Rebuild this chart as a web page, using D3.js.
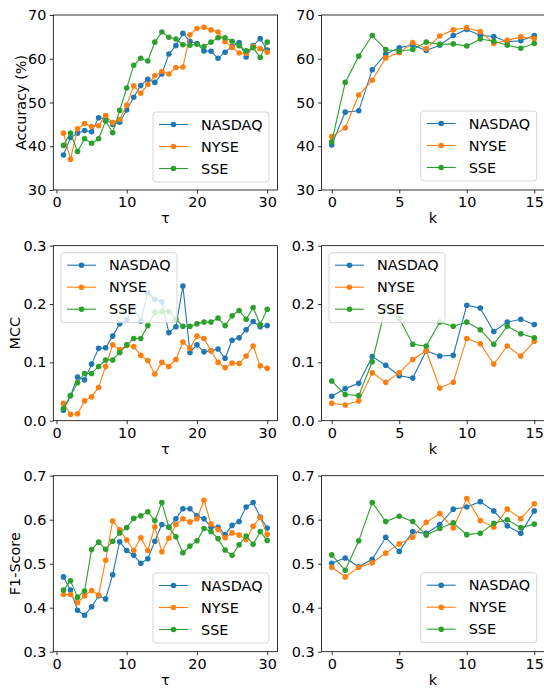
<!DOCTYPE html>
<html>
<head>
<style>
  body { margin: 0; background: #fff; }
  svg text { font-family: "DejaVu Sans", sans-serif; }
</style>
</head>
<body>
<div id="chart"></div>
<script src="https://d3js.org/d3.v7.min.js"></script>
<script>
// series names and colours
var seriesNames = ["NASDAQ", "NYSE", "SSE"];
var seriesColors = ["#1f77b4", "#ff7f0e", "#2ca02c"];

// x values
var tau = d3.range(1, 31);
var kVals = d3.range(0, 16);

// accuracy vs tau
var accTauNasdaq = [38, 42, 43, 43.6, 43.3, 46.5, 46.3, 45, 45.5, 48.3, 51.2, 53.9, 55.3, 54.6, 56.5, 61.1, 63, 65.8, 64, 63.5, 61.8, 61.7, 60.1, 61.5, 62.8, 63.7, 60.4, 63, 64.6, 62];
var accTauNyse = [43, 37, 44, 45.2, 44.5, 44.7, 47, 45.4, 46.1, 49.4, 53.8, 52.1, 54.1, 56.1, 57.1, 56.5, 58, 58.1, 65.5, 66.9, 67.2, 66.6, 66.1, 63.9, 62.6, 61.3, 61.2, 62.8, 62.3, 61.5];
var accTauSse = [40.2, 43, 38.8, 41.7, 40.7, 41.7, 45.8, 43.1, 48.2, 53.3, 58.5, 60.1, 59.5, 63.8, 66.1, 64.9, 64.5, 63.2, 63.1, 63.3, 62.8, 63.8, 64.8, 64.8, 64, 63, 61.8, 62.5, 60.3, 63.8];

// accuracy vs k
var accKNasdaq = [40.3, 47.8, 48.1, 57.5, 61.1, 62.5, 63.1, 61.9, 63.1, 65.3, 66.7, 65.3, 65.1, 63.9, 64.1, 65.3];
var accKNyse = [42.2, 44.2, 51.7, 55.1, 60.2, 61.4, 63.7, 62.3, 65.2, 66.6, 67.1, 66.2, 63.5, 64.2, 65, 64.6];
var accKSse = [41, 54.6, 60.6, 65.3, 62.1, 61.7, 62.1, 63.8, 63.3, 63.4, 62.9, 64.5, 64, 63.1, 62.4, 63.5];

// MCC vs tau
var mccTauNasdaq = [0.018, 0.043, 0.075, 0.07, 0.097, 0.124, 0.125, 0.145, 0.166, 0.173, 0.194, 0.171, 0.219, 0.208, 0.204, 0.151, 0.161, 0.231, 0.117, 0.13, 0.118, 0.12, 0.123, 0.107, 0.138, 0.142, 0.156, 0.17, 0.161, 0.163];
var mccTauNyse = [0.03, 0.011, 0.012, 0.034, 0.041, 0.057, 0.093, 0.13, 0.122, 0.129, 0.127, 0.112, 0.103, 0.08, 0.1, 0.093, 0.105, 0.135, 0.124, 0.145, 0.141, 0.12, 0.1, 0.091, 0.099, 0.098, 0.111, 0.128, 0.094, 0.09];
var mccTauSse = [0.021, 0.043, 0.065, 0.081, 0.081, 0.093, 0.104, 0.104, 0.117, 0.13, 0.141, 0.141, 0.163, 0.186, 0.187, 0.187, 0.174, 0.162, 0.162, 0.166, 0.169, 0.169, 0.176, 0.163, 0.18, 0.189, 0.174, 0.194, 0.165, 0.191];

// MCC vs k
var mccKNasdaq = [0.042, 0.055, 0.064, 0.11, 0.095, 0.077, 0.073, 0.12, 0.111, 0.112, 0.198, 0.193, 0.153, 0.169, 0.174, 0.165];
var mccKNyse = [0.03, 0.027, 0.034, 0.082, 0.066, 0.082, 0.105, 0.12, 0.056, 0.066, 0.141, 0.132, 0.097, 0.128, 0.111, 0.136];
var mccKSse = [0.068, 0.045, 0.043, 0.101, 0.196, 0.175, 0.131, 0.128, 0.169, 0.162, 0.169, 0.156, 0.131, 0.162, 0.149, 0.142];

// F1 vs tau
var f1TauNasdaq = [0.47, 0.44, 0.394, 0.383, 0.402, 0.427, 0.42, 0.475, 0.55, 0.53, 0.519, 0.501, 0.511, 0.551, 0.589, 0.583, 0.602, 0.625, 0.625, 0.609, 0.602, 0.583, 0.583, 0.566, 0.587, 0.596, 0.629, 0.639, 0.606, 0.581];
var f1TauNyse = [0.43, 0.43, 0.411, 0.427, 0.439, 0.429, 0.508, 0.597, 0.577, 0.554, 0.53, 0.559, 0.53, 0.584, 0.527, 0.558, 0.589, 0.602, 0.595, 0.602, 0.644, 0.59, 0.578, 0.559, 0.57, 0.565, 0.555, 0.585, 0.605, 0.567];
var f1TauSse = [0.44, 0.461, 0.424, 0.438, 0.532, 0.549, 0.533, 0.551, 0.57, 0.582, 0.603, 0.609, 0.618, 0.598, 0.639, 0.583, 0.561, 0.525, 0.54, 0.552, 0.58, 0.573, 0.557, 0.531, 0.519, 0.543, 0.563, 0.544, 0.573, 0.553];

// F1 vs k
var f1KNasdaq = [0.501, 0.513, 0.493, 0.51, 0.56, 0.528, 0.573, 0.569, 0.589, 0.624, 0.629, 0.641, 0.62, 0.586, 0.569, 0.62];
var f1KNyse = [0.492, 0.47, 0.492, 0.502, 0.524, 0.545, 0.56, 0.594, 0.614, 0.581, 0.648, 0.598, 0.583, 0.624, 0.602, 0.636];
var f1KSse = [0.52, 0.485, 0.552, 0.639, 0.596, 0.608, 0.596, 0.565, 0.58, 0.593, 0.566, 0.569, 0.592, 0.6, 0.582, 0.59];

var accTicks = [30, 40, 50, 60, 70];
var mccTicks = [0.0, 0.1, 0.2, 0.3];
var f1Ticks = [0.3, 0.4, 0.5, 0.6, 0.7];
var tauTicks = [0, 10, 20, 30];
var kTicks = [0, 5, 10, 15];

var W = 544, H = 688;
var svg = d3.select("#chart").append("svg")
    .attr("width", W)
    .attr("height", H);

var colL = [53.3, 277.4], colR = [321.6, 544.4];
var rows = [[15, 190], [245.7, 420.7], [475.7, 651.7]];

var panels = [
    { col: colL, row: rows[0], xs: tau, xd: [-0.45, 31.45], xt: tauTicks, xl: "τ", yd: [30, 70], yt: accTicks, yf: d3.format("d"), yl: "Accuracy (%)", ylx: 21, data: [accTauNasdaq, accTauNyse, accTauSse], leg: [153, 112] },
    { col: colR, row: rows[0], xs: kVals, xd: [-0.75, 15.75], xt: kTicks, xl: "k", yd: [30, 70], yt: accTicks, yf: d3.format("d"), yl: null, data: [accKNasdaq, accKNyse, accKSse], leg: [420.7, 111] },
    { col: colL, row: rows[1], xs: tau, xd: [-0.45, 31.45], xt: tauTicks, xl: "τ", yd: [0, 0.3], yt: mccTicks, yf: d3.format(".1f"), yl: "MCC", ylx: 15, data: [mccTauNasdaq, mccTauNyse, mccTauSse], leg: [61, 252.7] },
    { col: colR, row: rows[1], xs: kVals, xd: [-0.75, 15.75], xt: kTicks, xl: "k", yd: [0, 0.3], yt: mccTicks, yf: d3.format(".1f"), yl: null, data: [mccKNasdaq, mccKNyse, mccKSse], leg: [329, 252.7] },
    { col: colL, row: rows[2], xs: tau, xd: [-0.45, 31.45], xt: tauTicks, xl: "τ", yd: [0.3, 0.7], yt: f1Ticks, yf: d3.format(".1f"), yl: "F1-Score", ylx: 15, data: [f1TauNasdaq, f1TauNyse, f1TauSse], leg: [153, 573] },
    { col: colR, row: rows[2], xs: kVals, xd: [-0.75, 15.75], xt: kTicks, xl: "k", yd: [0.3, 0.7], yt: f1Ticks, yf: d3.format(".1f"), yl: null, data: [f1KNasdaq, f1KNyse, f1KSse], leg: [420.7, 572.7] }
];

panels.forEach(function (p) {
    var x = d3.scaleLinear().domain(p.xd).range(p.col);
    var y = d3.scaleLinear().domain(p.yd).range([p.row[1], p.row[0]]);
    var g = svg.append("g");

    // lines + markers
    p.data.forEach(function (vals, si) {
        var pts = vals.map(function (v, i) { return [p.xs[i], v]; });
        var line = d3.line().x(d => x(d[0])).y(d => y(d[1]));
        g.append("path")
            .attr("d", line(pts))
            .attr("fill", "none")
            .attr("stroke", seriesColors[si])
            .attr("stroke-width", 1.1);
        g.selectAll(".m" + si)
            .data(pts)
            .enter()
            .append("circle")
            .attr("cx", d => x(d[0]))
            .attr("cy", d => y(d[1]))
            .attr("r", 2.8)
            .attr("fill", seriesColors[si]);
    });

    // axes
    var xa = g.append("g")
        .attr("transform", "translate(0," + p.row[1] + ")")
        .call(d3.axisBottom(x).tickValues(p.xt).tickSize(3.5).tickPadding(3.5).tickSizeOuter(0));
    var ya = g.append("g")
        .attr("transform", "translate(" + p.col[0] + ",0)")
        .call(d3.axisLeft(y).tickValues(p.yt).tickFormat(p.yf).tickSize(3.5).tickPadding(3.5).tickSizeOuter(0));
    [xa, ya].forEach(function (a) {
        a.select(".domain").remove();
        a.selectAll("text").attr("font-size", 14.4).attr("fill", "#000").style("font-family", "DejaVu Sans");
        a.selectAll("line").attr("stroke", "#000").attr("stroke-width", 0.8);
    });

    g.append("rect")
        .attr("x", p.col[0])
        .attr("y", p.row[0])
        .attr("width", p.col[1] - p.col[0])
        .attr("height", p.row[1] - p.row[0])
        .attr("fill", "none")
        .attr("stroke", "#000")
        .attr("stroke-width", 0.8);

    g.append("text")
        .attr("x", x(p.xd[0] + (p.xd[1] - p.xd[0]) / 2))
        .attr("y", p.row[1] + 33)
        .attr("text-anchor", "middle")
        .attr("font-size", 14.4)
        .text(p.xl);

    if (p.yl) {
        g.append("text")
            .attr("transform", "translate(" + p.ylx + "," + ((p.row[0] + p.row[1]) / 2) + ") rotate(-90)")
            .attr("text-anchor", "middle")
            .attr("dy", "0.35em")
            .attr("font-size", 14.4)
            .text(p.yl);
    }

    // legend
    var lg = g.append("g").attr("transform", "translate(" + p.leg[0] + "," + p.leg[1] + ")");
    lg.append("rect")
        .attr("width", 116)
        .attr("height", 70)
        .attr("rx", 3)
        .attr("fill", "#fff")
        .attr("fill-opacity", 0.8)
        .attr("stroke", "#ccc")
        .attr("stroke-width", 0.8);
    seriesNames.forEach(function (n, i) {
        var cy = 12.5 + i * 22;
        lg.append("line")
            .attr("x1", 6).attr("x2", 35)
            .attr("y1", cy).attr("y2", cy)
            .attr("stroke", seriesColors[i])
            .attr("stroke-width", 1.1);
        lg.append("circle")
            .attr("cx", 20.5).attr("cy", cy).attr("r", 2.8)
            .attr("fill", seriesColors[i]);
        lg.append("text")
            .attr("x", 48)
            .attr("y", cy + 5)
            .attr("font-size", 14.4)
            .text(n);
    });
});
</script>
</body>
</html>
